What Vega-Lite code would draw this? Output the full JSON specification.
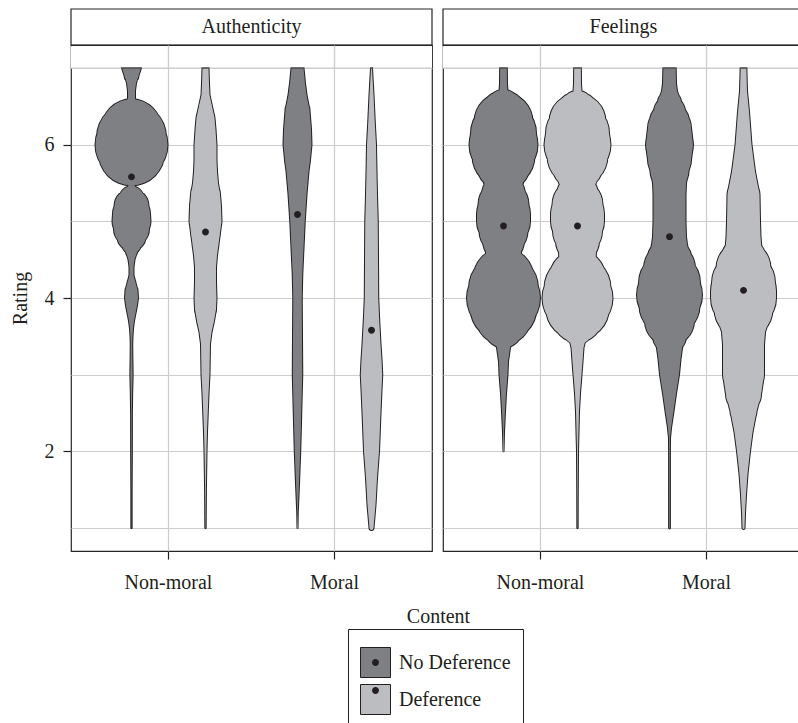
{
  "$schema": "https://vega.github.io/schema/vega-lite/v6.json",
  "background": "white",
  "padding": {"left": 9, "top": 8, "right": 0, "bottom": 0},
  "datasets": {
    "violin": [
      {"Measure":"Authenticity","Content":"Non-moral","Group":"No Deference","Rating":7,"Density":0.21},
      {"Measure":"Authenticity","Content":"Non-moral","Group":"No Deference","Rating":6.9,"Density":0.16},
      {"Measure":"Authenticity","Content":"Non-moral","Group":"No Deference","Rating":6.8,"Density":0.11},
      {"Measure":"Authenticity","Content":"Non-moral","Group":"No Deference","Rating":6.7,"Density":0.09},
      {"Measure":"Authenticity","Content":"Non-moral","Group":"No Deference","Rating":6.61,"Density":0.09},
      {"Measure":"Authenticity","Content":"Non-moral","Group":"No Deference","Rating":6.5,"Density":0.15},
      {"Measure":"Authenticity","Content":"Non-moral","Group":"No Deference","Rating":6.4,"Density":0.3},
      {"Measure":"Authenticity","Content":"Non-moral","Group":"No Deference","Rating":6.3,"Density":0.46},
      {"Measure":"Authenticity","Content":"Non-moral","Group":"No Deference","Rating":6.2,"Density":0.62},
      {"Measure":"Authenticity","Content":"Non-moral","Group":"No Deference","Rating":6.1,"Density":0.71},
      {"Measure":"Authenticity","Content":"Non-moral","Group":"No Deference","Rating":6,"Density":0.74},
      {"Measure":"Authenticity","Content":"Non-moral","Group":"No Deference","Rating":5.9,"Density":0.68},
      {"Measure":"Authenticity","Content":"Non-moral","Group":"No Deference","Rating":5.8,"Density":0.52},
      {"Measure":"Authenticity","Content":"Non-moral","Group":"No Deference","Rating":5.7,"Density":0.32},
      {"Measure":"Authenticity","Content":"Non-moral","Group":"No Deference","Rating":5.6,"Density":0.14},
      {"Measure":"Authenticity","Content":"Non-moral","Group":"No Deference","Rating":5.5,"Density":0.07},
      {"Measure":"Authenticity","Content":"Non-moral","Group":"No Deference","Rating":5.4,"Density":0.12},
      {"Measure":"Authenticity","Content":"Non-moral","Group":"No Deference","Rating":5.3,"Density":0.26},
      {"Measure":"Authenticity","Content":"Non-moral","Group":"No Deference","Rating":5.2,"Density":0.36},
      {"Measure":"Authenticity","Content":"Non-moral","Group":"No Deference","Rating":5.1,"Density":0.39},
      {"Measure":"Authenticity","Content":"Non-moral","Group":"No Deference","Rating":5,"Density":0.4},
      {"Measure":"Authenticity","Content":"Non-moral","Group":"No Deference","Rating":4.9,"Density":0.37},
      {"Measure":"Authenticity","Content":"Non-moral","Group":"No Deference","Rating":4.8,"Density":0.3},
      {"Measure":"Authenticity","Content":"Non-moral","Group":"No Deference","Rating":4.7,"Density":0.21},
      {"Measure":"Authenticity","Content":"Non-moral","Group":"No Deference","Rating":4.6,"Density":0.13},
      {"Measure":"Authenticity","Content":"Non-moral","Group":"No Deference","Rating":4.5,"Density":0.08},
      {"Measure":"Authenticity","Content":"Non-moral","Group":"No Deference","Rating":4.4,"Density":0.06},
      {"Measure":"Authenticity","Content":"Non-moral","Group":"No Deference","Rating":4.3,"Density":0.06},
      {"Measure":"Authenticity","Content":"Non-moral","Group":"No Deference","Rating":4.2,"Density":0.1},
      {"Measure":"Authenticity","Content":"Non-moral","Group":"No Deference","Rating":4.1,"Density":0.14},
      {"Measure":"Authenticity","Content":"Non-moral","Group":"No Deference","Rating":4,"Density":0.15},
      {"Measure":"Authenticity","Content":"Non-moral","Group":"No Deference","Rating":3.9,"Density":0.13},
      {"Measure":"Authenticity","Content":"Non-moral","Group":"No Deference","Rating":3.8,"Density":0.1},
      {"Measure":"Authenticity","Content":"Non-moral","Group":"No Deference","Rating":3.7,"Density":0.07},
      {"Measure":"Authenticity","Content":"Non-moral","Group":"No Deference","Rating":3.6,"Density":0.05},
      {"Measure":"Authenticity","Content":"Non-moral","Group":"No Deference","Rating":3.5,"Density":0.04},
      {"Measure":"Authenticity","Content":"Non-moral","Group":"No Deference","Rating":3.4,"Density":0.035},
      {"Measure":"Authenticity","Content":"Non-moral","Group":"No Deference","Rating":3.2,"Density":0.038},
      {"Measure":"Authenticity","Content":"Non-moral","Group":"No Deference","Rating":3,"Density":0.043},
      {"Measure":"Authenticity","Content":"Non-moral","Group":"No Deference","Rating":2.8,"Density":0.035},
      {"Measure":"Authenticity","Content":"Non-moral","Group":"No Deference","Rating":2.5,"Density":0.028},
      {"Measure":"Authenticity","Content":"Non-moral","Group":"No Deference","Rating":2,"Density":0.027},
      {"Measure":"Authenticity","Content":"Non-moral","Group":"No Deference","Rating":1.5,"Density":0.023},
      {"Measure":"Authenticity","Content":"Non-moral","Group":"No Deference","Rating":1,"Density":0.023},

      {"Measure":"Authenticity","Content":"Non-moral","Group":"Deference","Rating":7,"Density":0.08},
      {"Measure":"Authenticity","Content":"Non-moral","Group":"Deference","Rating":6.8,"Density":0.09},
      {"Measure":"Authenticity","Content":"Non-moral","Group":"Deference","Rating":6.65,"Density":0.1},
      {"Measure":"Authenticity","Content":"Non-moral","Group":"Deference","Rating":6.5,"Density":0.15},
      {"Measure":"Authenticity","Content":"Non-moral","Group":"Deference","Rating":6.35,"Density":0.2},
      {"Measure":"Authenticity","Content":"Non-moral","Group":"Deference","Rating":6.2,"Density":0.22},
      {"Measure":"Authenticity","Content":"Non-moral","Group":"Deference","Rating":6,"Density":0.24},
      {"Measure":"Authenticity","Content":"Non-moral","Group":"Deference","Rating":5.8,"Density":0.24},
      {"Measure":"Authenticity","Content":"Non-moral","Group":"Deference","Rating":5.65,"Density":0.25},
      {"Measure":"Authenticity","Content":"Non-moral","Group":"Deference","Rating":5.5,"Density":0.27},
      {"Measure":"Authenticity","Content":"Non-moral","Group":"Deference","Rating":5.35,"Density":0.31},
      {"Measure":"Authenticity","Content":"Non-moral","Group":"Deference","Rating":5.2,"Density":0.33},
      {"Measure":"Authenticity","Content":"Non-moral","Group":"Deference","Rating":5,"Density":0.34},
      {"Measure":"Authenticity","Content":"Non-moral","Group":"Deference","Rating":4.85,"Density":0.31},
      {"Measure":"Authenticity","Content":"Non-moral","Group":"Deference","Rating":4.7,"Density":0.28},
      {"Measure":"Authenticity","Content":"Non-moral","Group":"Deference","Rating":4.55,"Density":0.25},
      {"Measure":"Authenticity","Content":"Non-moral","Group":"Deference","Rating":4.4,"Density":0.23},
      {"Measure":"Authenticity","Content":"Non-moral","Group":"Deference","Rating":4.2,"Density":0.23},
      {"Measure":"Authenticity","Content":"Non-moral","Group":"Deference","Rating":4,"Density":0.24},
      {"Measure":"Authenticity","Content":"Non-moral","Group":"Deference","Rating":3.85,"Density":0.23},
      {"Measure":"Authenticity","Content":"Non-moral","Group":"Deference","Rating":3.7,"Density":0.19},
      {"Measure":"Authenticity","Content":"Non-moral","Group":"Deference","Rating":3.55,"Density":0.14},
      {"Measure":"Authenticity","Content":"Non-moral","Group":"Deference","Rating":3.4,"Density":0.11},
      {"Measure":"Authenticity","Content":"Non-moral","Group":"Deference","Rating":3.2,"Density":0.105},
      {"Measure":"Authenticity","Content":"Non-moral","Group":"Deference","Rating":3,"Density":0.1},
      {"Measure":"Authenticity","Content":"Non-moral","Group":"Deference","Rating":2.75,"Density":0.08},
      {"Measure":"Authenticity","Content":"Non-moral","Group":"Deference","Rating":2.5,"Density":0.065},
      {"Measure":"Authenticity","Content":"Non-moral","Group":"Deference","Rating":2.25,"Density":0.05},
      {"Measure":"Authenticity","Content":"Non-moral","Group":"Deference","Rating":2,"Density":0.04},
      {"Measure":"Authenticity","Content":"Non-moral","Group":"Deference","Rating":1.5,"Density":0.028},
      {"Measure":"Authenticity","Content":"Non-moral","Group":"Deference","Rating":1,"Density":0.023},

      {"Measure":"Authenticity","Content":"Moral","Group":"No Deference","Rating":7,"Density":0.14},
      {"Measure":"Authenticity","Content":"Moral","Group":"No Deference","Rating":6.8,"Density":0.17},
      {"Measure":"Authenticity","Content":"Moral","Group":"No Deference","Rating":6.65,"Density":0.2},
      {"Measure":"Authenticity","Content":"Moral","Group":"No Deference","Rating":6.45,"Density":0.26},
      {"Measure":"Authenticity","Content":"Moral","Group":"No Deference","Rating":6.2,"Density":0.29},
      {"Measure":"Authenticity","Content":"Moral","Group":"No Deference","Rating":6,"Density":0.3},
      {"Measure":"Authenticity","Content":"Moral","Group":"No Deference","Rating":5.8,"Density":0.27},
      {"Measure":"Authenticity","Content":"Moral","Group":"No Deference","Rating":5.65,"Density":0.24},
      {"Measure":"Authenticity","Content":"Moral","Group":"No Deference","Rating":5.35,"Density":0.2},
      {"Measure":"Authenticity","Content":"Moral","Group":"No Deference","Rating":5,"Density":0.165},
      {"Measure":"Authenticity","Content":"Moral","Group":"No Deference","Rating":4.65,"Density":0.14},
      {"Measure":"Authenticity","Content":"Moral","Group":"No Deference","Rating":4.3,"Density":0.115},
      {"Measure":"Authenticity","Content":"Moral","Group":"No Deference","Rating":4,"Density":0.105},
      {"Measure":"Authenticity","Content":"Moral","Group":"No Deference","Rating":3.5,"Density":0.11},
      {"Measure":"Authenticity","Content":"Moral","Group":"No Deference","Rating":3,"Density":0.115},
      {"Measure":"Authenticity","Content":"Moral","Group":"No Deference","Rating":2.5,"Density":0.095},
      {"Measure":"Authenticity","Content":"Moral","Group":"No Deference","Rating":2,"Density":0.075},
      {"Measure":"Authenticity","Content":"Moral","Group":"No Deference","Rating":1.5,"Density":0.045},
      {"Measure":"Authenticity","Content":"Moral","Group":"No Deference","Rating":1.2,"Density":0.025},
      {"Measure":"Authenticity","Content":"Moral","Group":"No Deference","Rating":1,"Density":0.02},

      {"Measure":"Authenticity","Content":"Moral","Group":"Deference","Rating":7,"Density":0.03},
      {"Measure":"Authenticity","Content":"Moral","Group":"Deference","Rating":6.65,"Density":0.06},
      {"Measure":"Authenticity","Content":"Moral","Group":"Deference","Rating":6.3,"Density":0.085},
      {"Measure":"Authenticity","Content":"Moral","Group":"Deference","Rating":6,"Density":0.11},
      {"Measure":"Authenticity","Content":"Moral","Group":"Deference","Rating":5.65,"Density":0.12},
      {"Measure":"Authenticity","Content":"Moral","Group":"Deference","Rating":5.35,"Density":0.13},
      {"Measure":"Authenticity","Content":"Moral","Group":"Deference","Rating":5,"Density":0.145},
      {"Measure":"Authenticity","Content":"Moral","Group":"Deference","Rating":4.5,"Density":0.15},
      {"Measure":"Authenticity","Content":"Moral","Group":"Deference","Rating":4,"Density":0.155},
      {"Measure":"Authenticity","Content":"Moral","Group":"Deference","Rating":3.7,"Density":0.175},
      {"Measure":"Authenticity","Content":"Moral","Group":"Deference","Rating":3.4,"Density":0.2},
      {"Measure":"Authenticity","Content":"Moral","Group":"Deference","Rating":3.2,"Density":0.22},
      {"Measure":"Authenticity","Content":"Moral","Group":"Deference","Rating":3,"Density":0.235},
      {"Measure":"Authenticity","Content":"Moral","Group":"Deference","Rating":2.8,"Density":0.22},
      {"Measure":"Authenticity","Content":"Moral","Group":"Deference","Rating":2.5,"Density":0.2},
      {"Measure":"Authenticity","Content":"Moral","Group":"Deference","Rating":2,"Density":0.17},
      {"Measure":"Authenticity","Content":"Moral","Group":"Deference","Rating":1.65,"Density":0.13},
      {"Measure":"Authenticity","Content":"Moral","Group":"Deference","Rating":1.3,"Density":0.1},
      {"Measure":"Authenticity","Content":"Moral","Group":"Deference","Rating":1,"Density":0.06},

      {"Measure":"Feelings","Content":"Non-moral","Group":"No Deference","Rating":7,"Density":0.087},
      {"Measure":"Feelings","Content":"Non-moral","Group":"No Deference","Rating":6.8,"Density":0.09},
      {"Measure":"Feelings","Content":"Non-moral","Group":"No Deference","Rating":6.7,"Density":0.1},
      {"Measure":"Feelings","Content":"Non-moral","Group":"No Deference","Rating":6.6,"Density":0.18},
      {"Measure":"Feelings","Content":"Non-moral","Group":"No Deference","Rating":6.5,"Density":0.35},
      {"Measure":"Feelings","Content":"Non-moral","Group":"No Deference","Rating":6.4,"Density":0.48},
      {"Measure":"Feelings","Content":"Non-moral","Group":"No Deference","Rating":6.3,"Density":0.6},
      {"Measure":"Feelings","Content":"Non-moral","Group":"No Deference","Rating":6.15,"Density":0.67},
      {"Measure":"Feelings","Content":"Non-moral","Group":"No Deference","Rating":6,"Density":0.7},
      {"Measure":"Feelings","Content":"Non-moral","Group":"No Deference","Rating":5.85,"Density":0.64},
      {"Measure":"Feelings","Content":"Non-moral","Group":"No Deference","Rating":5.74,"Density":0.55},
      {"Measure":"Feelings","Content":"Non-moral","Group":"No Deference","Rating":5.6,"Density":0.44},
      {"Measure":"Feelings","Content":"Non-moral","Group":"No Deference","Rating":5.48,"Density":0.4},
      {"Measure":"Feelings","Content":"Non-moral","Group":"No Deference","Rating":5.35,"Density":0.45},
      {"Measure":"Feelings","Content":"Non-moral","Group":"No Deference","Rating":5.22,"Density":0.52},
      {"Measure":"Feelings","Content":"Non-moral","Group":"No Deference","Rating":5.1,"Density":0.55},
      {"Measure":"Feelings","Content":"Non-moral","Group":"No Deference","Rating":5,"Density":0.55},
      {"Measure":"Feelings","Content":"Non-moral","Group":"No Deference","Rating":4.87,"Density":0.5},
      {"Measure":"Feelings","Content":"Non-moral","Group":"No Deference","Rating":4.74,"Density":0.43},
      {"Measure":"Feelings","Content":"Non-moral","Group":"No Deference","Rating":4.6,"Density":0.37},
      {"Measure":"Feelings","Content":"Non-moral","Group":"No Deference","Rating":4.48,"Density":0.38},
      {"Measure":"Feelings","Content":"Non-moral","Group":"No Deference","Rating":4.35,"Density":0.5},
      {"Measure":"Feelings","Content":"Non-moral","Group":"No Deference","Rating":4.26,"Density":0.62},
      {"Measure":"Feelings","Content":"Non-moral","Group":"No Deference","Rating":4.13,"Density":0.71},
      {"Measure":"Feelings","Content":"Non-moral","Group":"No Deference","Rating":4,"Density":0.75},
      {"Measure":"Feelings","Content":"Non-moral","Group":"No Deference","Rating":3.87,"Density":0.68},
      {"Measure":"Feelings","Content":"Non-moral","Group":"No Deference","Rating":3.75,"Density":0.57},
      {"Measure":"Feelings","Content":"Non-moral","Group":"No Deference","Rating":3.6,"Density":0.4},
      {"Measure":"Feelings","Content":"Non-moral","Group":"No Deference","Rating":3.48,"Density":0.23},
      {"Measure":"Feelings","Content":"Non-moral","Group":"No Deference","Rating":3.35,"Density":0.15},
      {"Measure":"Feelings","Content":"Non-moral","Group":"No Deference","Rating":3.17,"Density":0.11},
      {"Measure":"Feelings","Content":"Non-moral","Group":"No Deference","Rating":3,"Density":0.1},
      {"Measure":"Feelings","Content":"Non-moral","Group":"No Deference","Rating":2.75,"Density":0.07},
      {"Measure":"Feelings","Content":"Non-moral","Group":"No Deference","Rating":2.52,"Density":0.05},
      {"Measure":"Feelings","Content":"Non-moral","Group":"No Deference","Rating":2.25,"Density":0.03},
      {"Measure":"Feelings","Content":"Non-moral","Group":"No Deference","Rating":2,"Density":0.02},

      {"Measure":"Feelings","Content":"Non-moral","Group":"Deference","Rating":7,"Density":0.087},
      {"Measure":"Feelings","Content":"Non-moral","Group":"Deference","Rating":6.8,"Density":0.09},
      {"Measure":"Feelings","Content":"Non-moral","Group":"Deference","Rating":6.7,"Density":0.1},
      {"Measure":"Feelings","Content":"Non-moral","Group":"Deference","Rating":6.6,"Density":0.17},
      {"Measure":"Feelings","Content":"Non-moral","Group":"Deference","Rating":6.5,"Density":0.33},
      {"Measure":"Feelings","Content":"Non-moral","Group":"Deference","Rating":6.4,"Density":0.46},
      {"Measure":"Feelings","Content":"Non-moral","Group":"Deference","Rating":6.3,"Density":0.58},
      {"Measure":"Feelings","Content":"Non-moral","Group":"Deference","Rating":6.15,"Density":0.65},
      {"Measure":"Feelings","Content":"Non-moral","Group":"Deference","Rating":6,"Density":0.68},
      {"Measure":"Feelings","Content":"Non-moral","Group":"Deference","Rating":5.85,"Density":0.62},
      {"Measure":"Feelings","Content":"Non-moral","Group":"Deference","Rating":5.74,"Density":0.53},
      {"Measure":"Feelings","Content":"Non-moral","Group":"Deference","Rating":5.6,"Density":0.42},
      {"Measure":"Feelings","Content":"Non-moral","Group":"Deference","Rating":5.48,"Density":0.37},
      {"Measure":"Feelings","Content":"Non-moral","Group":"Deference","Rating":5.35,"Density":0.43},
      {"Measure":"Feelings","Content":"Non-moral","Group":"Deference","Rating":5.22,"Density":0.52},
      {"Measure":"Feelings","Content":"Non-moral","Group":"Deference","Rating":5.1,"Density":0.55},
      {"Measure":"Feelings","Content":"Non-moral","Group":"Deference","Rating":5,"Density":0.55},
      {"Measure":"Feelings","Content":"Non-moral","Group":"Deference","Rating":4.87,"Density":0.51},
      {"Measure":"Feelings","Content":"Non-moral","Group":"Deference","Rating":4.74,"Density":0.45},
      {"Measure":"Feelings","Content":"Non-moral","Group":"Deference","Rating":4.6,"Density":0.39},
      {"Measure":"Feelings","Content":"Non-moral","Group":"Deference","Rating":4.48,"Density":0.38},
      {"Measure":"Feelings","Content":"Non-moral","Group":"Deference","Rating":4.35,"Density":0.46},
      {"Measure":"Feelings","Content":"Non-moral","Group":"Deference","Rating":4.26,"Density":0.58},
      {"Measure":"Feelings","Content":"Non-moral","Group":"Deference","Rating":4.13,"Density":0.68},
      {"Measure":"Feelings","Content":"Non-moral","Group":"Deference","Rating":4,"Density":0.72},
      {"Measure":"Feelings","Content":"Non-moral","Group":"Deference","Rating":3.87,"Density":0.65},
      {"Measure":"Feelings","Content":"Non-moral","Group":"Deference","Rating":3.75,"Density":0.52},
      {"Measure":"Feelings","Content":"Non-moral","Group":"Deference","Rating":3.6,"Density":0.33},
      {"Measure":"Feelings","Content":"Non-moral","Group":"Deference","Rating":3.48,"Density":0.19},
      {"Measure":"Feelings","Content":"Non-moral","Group":"Deference","Rating":3.35,"Density":0.14},
      {"Measure":"Feelings","Content":"Non-moral","Group":"Deference","Rating":3.17,"Density":0.12},
      {"Measure":"Feelings","Content":"Non-moral","Group":"Deference","Rating":3,"Density":0.1},
      {"Measure":"Feelings","Content":"Non-moral","Group":"Deference","Rating":2.75,"Density":0.07},
      {"Measure":"Feelings","Content":"Non-moral","Group":"Deference","Rating":2.52,"Density":0.05},
      {"Measure":"Feelings","Content":"Non-moral","Group":"Deference","Rating":2.25,"Density":0.04},
      {"Measure":"Feelings","Content":"Non-moral","Group":"Deference","Rating":2,"Density":0.03},
      {"Measure":"Feelings","Content":"Non-moral","Group":"Deference","Rating":1.5,"Density":0.025},
      {"Measure":"Feelings","Content":"Non-moral","Group":"Deference","Rating":1,"Density":0.023},

      {"Measure":"Feelings","Content":"Moral","Group":"No Deference","Rating":7,"Density":0.143},
      {"Measure":"Feelings","Content":"Moral","Group":"No Deference","Rating":6.8,"Density":0.15},
      {"Measure":"Feelings","Content":"Moral","Group":"No Deference","Rating":6.7,"Density":0.17},
      {"Measure":"Feelings","Content":"Moral","Group":"No Deference","Rating":6.55,"Density":0.25},
      {"Measure":"Feelings","Content":"Moral","Group":"No Deference","Rating":6.43,"Density":0.33},
      {"Measure":"Feelings","Content":"Moral","Group":"No Deference","Rating":6.3,"Density":0.41},
      {"Measure":"Feelings","Content":"Moral","Group":"No Deference","Rating":6.22,"Density":0.45},
      {"Measure":"Feelings","Content":"Moral","Group":"No Deference","Rating":6,"Density":0.49},
      {"Measure":"Feelings","Content":"Moral","Group":"No Deference","Rating":5.8,"Density":0.45},
      {"Measure":"Feelings","Content":"Moral","Group":"No Deference","Rating":5.65,"Density":0.4},
      {"Measure":"Feelings","Content":"Moral","Group":"No Deference","Rating":5.5,"Density":0.35},
      {"Measure":"Feelings","Content":"Moral","Group":"No Deference","Rating":5.35,"Density":0.34},
      {"Measure":"Feelings","Content":"Moral","Group":"No Deference","Rating":5,"Density":0.34},
      {"Measure":"Feelings","Content":"Moral","Group":"No Deference","Rating":4.8,"Density":0.35},
      {"Measure":"Feelings","Content":"Moral","Group":"No Deference","Rating":4.65,"Density":0.38},
      {"Measure":"Feelings","Content":"Moral","Group":"No Deference","Rating":4.5,"Density":0.46},
      {"Measure":"Feelings","Content":"Moral","Group":"No Deference","Rating":4.39,"Density":0.53},
      {"Measure":"Feelings","Content":"Moral","Group":"No Deference","Rating":4.2,"Density":0.63},
      {"Measure":"Feelings","Content":"Moral","Group":"No Deference","Rating":4.04,"Density":0.67},
      {"Measure":"Feelings","Content":"Moral","Group":"No Deference","Rating":3.9,"Density":0.62},
      {"Measure":"Feelings","Content":"Moral","Group":"No Deference","Rating":3.7,"Density":0.51},
      {"Measure":"Feelings","Content":"Moral","Group":"No Deference","Rating":3.5,"Density":0.35},
      {"Measure":"Feelings","Content":"Moral","Group":"No Deference","Rating":3.39,"Density":0.28},
      {"Measure":"Feelings","Content":"Moral","Group":"No Deference","Rating":3.2,"Density":0.24},
      {"Measure":"Feelings","Content":"Moral","Group":"No Deference","Rating":3,"Density":0.21},
      {"Measure":"Feelings","Content":"Moral","Group":"No Deference","Rating":2.75,"Density":0.15},
      {"Measure":"Feelings","Content":"Moral","Group":"No Deference","Rating":2.52,"Density":0.1},
      {"Measure":"Feelings","Content":"Moral","Group":"No Deference","Rating":2.3,"Density":0.05},
      {"Measure":"Feelings","Content":"Moral","Group":"No Deference","Rating":2.17,"Density":0.03},
      {"Measure":"Feelings","Content":"Moral","Group":"No Deference","Rating":2,"Density":0.028},
      {"Measure":"Feelings","Content":"Moral","Group":"No Deference","Rating":1.5,"Density":0.028},
      {"Measure":"Feelings","Content":"Moral","Group":"No Deference","Rating":1,"Density":0.028},

      {"Measure":"Feelings","Content":"Moral","Group":"Deference","Rating":7,"Density":0.077},
      {"Measure":"Feelings","Content":"Moral","Group":"Deference","Rating":6.7,"Density":0.09},
      {"Measure":"Feelings","Content":"Moral","Group":"Deference","Rating":6.43,"Density":0.13},
      {"Measure":"Feelings","Content":"Moral","Group":"Deference","Rating":6,"Density":0.18},
      {"Measure":"Feelings","Content":"Moral","Group":"Deference","Rating":5.65,"Density":0.25},
      {"Measure":"Feelings","Content":"Moral","Group":"Deference","Rating":5.35,"Density":0.34},
      {"Measure":"Feelings","Content":"Moral","Group":"Deference","Rating":5,"Density":0.35},
      {"Measure":"Feelings","Content":"Moral","Group":"Deference","Rating":4.8,"Density":0.36},
      {"Measure":"Feelings","Content":"Moral","Group":"Deference","Rating":4.65,"Density":0.38},
      {"Measure":"Feelings","Content":"Moral","Group":"Deference","Rating":4.5,"Density":0.47},
      {"Measure":"Feelings","Content":"Moral","Group":"Deference","Rating":4.39,"Density":0.56},
      {"Measure":"Feelings","Content":"Moral","Group":"Deference","Rating":4.2,"Density":0.65},
      {"Measure":"Feelings","Content":"Moral","Group":"Deference","Rating":4.09,"Density":0.67},
      {"Measure":"Feelings","Content":"Moral","Group":"Deference","Rating":4,"Density":0.67},
      {"Measure":"Feelings","Content":"Moral","Group":"Deference","Rating":3.85,"Density":0.6},
      {"Measure":"Feelings","Content":"Moral","Group":"Deference","Rating":3.7,"Density":0.5},
      {"Measure":"Feelings","Content":"Moral","Group":"Deference","Rating":3.55,"Density":0.45},
      {"Measure":"Feelings","Content":"Moral","Group":"Deference","Rating":3.39,"Density":0.43},
      {"Measure":"Feelings","Content":"Moral","Group":"Deference","Rating":3,"Density":0.43},
      {"Measure":"Feelings","Content":"Moral","Group":"Deference","Rating":2.74,"Density":0.37},
      {"Measure":"Feelings","Content":"Moral","Group":"Deference","Rating":2.52,"Density":0.28},
      {"Measure":"Feelings","Content":"Moral","Group":"Deference","Rating":2.25,"Density":0.2},
      {"Measure":"Feelings","Content":"Moral","Group":"Deference","Rating":2,"Density":0.15},
      {"Measure":"Feelings","Content":"Moral","Group":"Deference","Rating":1.7,"Density":0.1},
      {"Measure":"Feelings","Content":"Moral","Group":"Deference","Rating":1.43,"Density":0.07},
      {"Measure":"Feelings","Content":"Moral","Group":"Deference","Rating":1.2,"Density":0.05},
      {"Measure":"Feelings","Content":"Moral","Group":"Deference","Rating":1,"Density":0.04}
    ],
    "means": [
      {"Measure":"Authenticity","Content":"Non-moral","Group":"No Deference","Rating":5.58},
      {"Measure":"Authenticity","Content":"Non-moral","Group":"Deference","Rating":4.86},
      {"Measure":"Authenticity","Content":"Moral","Group":"No Deference","Rating":5.09},
      {"Measure":"Authenticity","Content":"Moral","Group":"Deference","Rating":3.58},
      {"Measure":"Feelings","Content":"Non-moral","Group":"No Deference","Rating":4.94},
      {"Measure":"Feelings","Content":"Non-moral","Group":"Deference","Rating":4.94},
      {"Measure":"Feelings","Content":"Moral","Group":"No Deference","Rating":4.8},
      {"Measure":"Feelings","Content":"Moral","Group":"Deference","Rating":4.1}
    ]
  },
  "columns": 2,
  "bounds": "flush",
  "spacing": {"row": 0, "column": 11},
  "concat": [
    {
      "width": 361, "height": 36,
      "data": {"values": [{"Measure": "Authenticity"}]},
      "layer": [
        {"mark": {"type": "rect", "fill": "white", "stroke": "#262626", "strokeWidth": 1.2}, "encoding": {}},
        {"mark": {"type": "text", "font": "Liberation Serif", "fontSize": 20, "color": "#231f20"},
         "encoding": {"text": {"field": "Measure", "type": "nominal"}}}
      ]
    },
    {
      "width": 361, "height": 36,
      "data": {"values": [{"Measure": "Feelings"}]},
      "layer": [
        {"mark": {"type": "rect", "fill": "white", "stroke": "#262626", "strokeWidth": 1.2}, "encoding": {}},
        {"mark": {"type": "text", "font": "Liberation Serif", "fontSize": 20, "color": "#231f20"},
         "encoding": {"text": {"field": "Measure", "type": "nominal"}}}
      ]
    },
    {
      "width": 361, "height": 506,
      "layer": [
        {
          "data": {"name": "violin"},
          "transform": [{"filter": "datum.Measure === 'Authenticity'"}],
          "mark": {"type": "trail", "color": "#231f20"},
          "encoding": {
            "x": {"field": "Content", "type": "nominal", "sort": ["Non-moral", "Moral"],
                  "scale": {"type": "band", "domain": ["Non-moral", "Moral"], "paddingInner": 0, "paddingOuter": 0.0873},
                  "axis": {"title": "Content", "titleX": 367, "titleY": 71, "titleBaseline": "alphabetic", "labelAngle": 0, "tickSize": 8, "labelPadding": 13, "grid": true}},
            "xOffset": {"field": "Group", "type": "nominal", "sort": ["No Deference", "Deference"],
                        "scale": {"type": "point", "domain": ["No Deference", "Deference"], "padding": 0.6216}},
            "y": {"field": "Rating", "type": "quantitative",
                  "scale": {"domain": [0.7, 7.3], "nice": false, "zero": false},
                  "axis": {"values": [1, 2, 3, 4, 5, 6, 7], "format": "d", "labelExpr": "datum.value % 2 === 0 ? datum.label : ''",
                           "tickOpacity": {"condition": {"test": "datum.value % 2 === 1", "value": 0}, "value": 1},
                           "tickSize": 8, "labelPadding": 9, "title": "Rating", "titleX": -45, "titleBaseline": "alphabetic", "grid": true}},
            "size": {"field": "Density", "type": "quantitative", "scale": {"domain": [0, 1], "range": [0, 100]}, "legend": null},
            "detail": [{"field": "Content", "type": "nominal"}, {"field": "Group", "type": "nominal"}],
            "order": {"field": "Rating", "type": "quantitative"}
          }
        },
        {
          "data": {"name": "violin"},
          "transform": [{"filter": "datum.Measure === 'Authenticity'"}],
          "mark": {"type": "trail"},
          "encoding": {
            "x": {"field": "Content", "type": "nominal", "sort": ["Non-moral", "Moral"],
                  "scale": {"type": "band", "domain": ["Non-moral", "Moral"], "paddingInner": 0, "paddingOuter": 0.0873},
                  "axis": {"title": "Content", "titleX": 367, "titleY": 71, "titleBaseline": "alphabetic", "labelAngle": 0, "tickSize": 8, "labelPadding": 13, "grid": true}},
            "xOffset": {"field": "Group", "type": "nominal", "sort": ["No Deference", "Deference"],
                        "scale": {"type": "point", "domain": ["No Deference", "Deference"], "padding": 0.6216}},
            "y": {"field": "Rating", "type": "quantitative"},
            "fill": {"field": "Group", "type": "nominal",
                     "scale": {"domain": ["No Deference", "Deference"], "range": ["#7f8084", "#bcbdc1"]},
                     "legend": {"orient": "none", "legendX": 277, "legendY": 620, "direction": "vertical", "title": " ", "titleFontSize": 6, "titlePadding": 0, "padding": 12, "strokeColor": "#231f20", "fillColor": "white", "symbolType": "square", "symbolSize": 900, "symbolStrokeColor": "#231f20", "symbolStrokeWidth": 1, "symbolOpacity": 1, "labelFont": "Liberation Serif", "labelFontSize": 20, "labelColor": "#231f20", "labelOffset": 8, "rowPadding": 2}},
            "size": {"field": "Density", "type": "quantitative", "scale": {"domain": [0.02, 1.02], "range": [0, 100], "clamp": true}, "legend": null},
            "detail": [{"field": "Content", "type": "nominal"}, {"field": "Group", "type": "nominal"}],
            "order": {"field": "Rating", "type": "quantitative"}
          }
        },
        {
          "data": {"values": [{"Band": "top"}]},
          "mark": {"type": "rect", "color": "white"},
          "encoding": {"x": {"value": 0}, "x2": {"value": "width"}, "y": {"datum": 7}, "y2": {"datum": 7.285}}
        },
        {
          "data": {"values": [{"Band": "top"}]},
          "mark": {"type": "rule", "color": "#cdcdcd", "strokeWidth": 1.2},
          "encoding": {"x": {"value": 0}, "x2": {"value": "width"}, "y": {"datum": 7}}
        },
        {
          "data": {"name": "means"},
          "transform": [{"filter": "datum.Measure === 'Authenticity'"}],
          "mark": {"type": "rule", "color": "#cdcdcd", "strokeWidth": 1.2},
          "encoding": {
            "x": {"field": "Content", "type": "nominal", "sort": ["Non-moral", "Moral"],
                  "scale": {"type": "band", "domain": ["Non-moral", "Moral"], "paddingInner": 0, "paddingOuter": 0.0873},
                  "axis": {"title": "Content", "titleX": 367, "titleY": 71, "titleBaseline": "alphabetic", "labelAngle": 0, "tickSize": 8, "labelPadding": 13, "grid": true}},
            "y": {"datum": 7}, "y2": {"datum": 7.285}
          }
        },
        {
          "data": {"name": "violin"},
          "transform": [{"filter": "datum.Measure === 'Authenticity' && datum.Rating === 7"}],
          "mark": {"type": "tick", "color": "#231f20", "thickness": 1.2, "opacity": 1},
          "encoding": {
            "x": {"field": "Content", "type": "nominal", "sort": ["Non-moral", "Moral"],
                  "scale": {"type": "band", "domain": ["Non-moral", "Moral"], "paddingInner": 0, "paddingOuter": 0.0873},
                  "axis": {"title": "Content", "titleX": 367, "titleY": 71, "titleBaseline": "alphabetic", "labelAngle": 0, "tickSize": 8, "labelPadding": 13, "grid": true}},
            "xOffset": {"field": "Group", "type": "nominal", "sort": ["No Deference", "Deference"],
                        "scale": {"type": "point", "domain": ["No Deference", "Deference"], "padding": 0.6216}},
            "y": {"field": "Rating", "type": "quantitative"},
            "size": {"field": "Density", "type": "quantitative", "scale": {"domain": [0, 1], "range": [0, 100]}, "legend": null}
          }
        },
        {
          "data": {"name": "means"},
          "transform": [{"filter": "datum.Measure === 'Authenticity'"}],
          "mark": {"type": "point", "filled": true, "size": 900, "opacity": 1, "color": "#231f20", "strokeWidth": 0},
          "encoding": {
            "x": {"field": "Content", "type": "nominal", "sort": ["Non-moral", "Moral"],
                  "scale": {"type": "band", "domain": ["Non-moral", "Moral"], "paddingInner": 0, "paddingOuter": 0.0873},
                  "axis": {"title": "Content", "titleX": 367, "titleY": 71, "titleBaseline": "alphabetic", "labelAngle": 0, "tickSize": 8, "labelPadding": 13, "grid": true}},
            "xOffset": {"field": "Group", "type": "nominal", "sort": ["No Deference", "Deference"],
                        "scale": {"type": "point", "domain": ["No Deference", "Deference"], "padding": 0.6216}},
            "y": {"field": "Rating", "type": "quantitative"},
            "shape": {"field": "Group", "type": "nominal",
                      "scale": {"range": ["M-0.23,0A0.23,0.23 0 1,0 0.23,0A0.23,0.23 0 1,0 -0.23,0Z", "M-0.23,0A0.23,0.23 0 1,0 0.23,0A0.23,0.23 0 1,0 -0.23,0Z"]},
                      "legend": {"orient": "none", "legendX": 277, "legendY": 620, "direction": "vertical", "title": " ", "titleFontSize": 6, "titlePadding": 0, "padding": 12, "symbolSize": 900, "symbolFillColor": "#231f20", "symbolStrokeColor": "transparent", "symbolStrokeWidth": 1, "symbolOpacity": 1, "labelFont": "Liberation Serif", "labelFontSize": 20, "labelExpr": "''", "labelOffset": 8, "rowPadding": 2}}
          }
        }
      ],
      "resolve": {"scale": {"size": "independent"}}
    },
    {
      "width": 361, "height": 506,
      "layer": [
        {
          "data": {"name": "violin"},
          "transform": [{"filter": "datum.Measure === 'Feelings'"}],
          "mark": {"type": "trail", "color": "#231f20"},
          "encoding": {
            "x": {"field": "Content", "type": "nominal", "sort": ["Non-moral", "Moral"],
                  "scale": {"type": "band", "domain": ["Non-moral", "Moral"], "paddingInner": 0, "paddingOuter": 0.0873},
                  "axis": {"title": null, "labelAngle": 0, "tickSize": 8, "labelPadding": 13, "grid": true}},
            "xOffset": {"field": "Group", "type": "nominal", "sort": ["No Deference", "Deference"],
                        "scale": {"type": "point", "domain": ["No Deference", "Deference"], "padding": 0.6216}},
            "y": {"field": "Rating", "type": "quantitative",
                  "scale": {"domain": [0.7, 7.3], "nice": false, "zero": false},
                  "axis": {"values": [1, 2, 3, 4, 5, 6, 7], "labels": false, "ticks": false, "title": null, "grid": true}},
            "size": {"field": "Density", "type": "quantitative", "scale": {"domain": [0, 1], "range": [0, 100]}, "legend": null},
            "detail": [{"field": "Content", "type": "nominal"}, {"field": "Group", "type": "nominal"}],
            "order": {"field": "Rating", "type": "quantitative"}
          }
        },
        {
          "data": {"name": "violin"},
          "transform": [{"filter": "datum.Measure === 'Feelings'"}],
          "mark": {"type": "trail"},
          "encoding": {
            "x": {"field": "Content", "type": "nominal", "sort": ["Non-moral", "Moral"],
                  "scale": {"type": "band", "domain": ["Non-moral", "Moral"], "paddingInner": 0, "paddingOuter": 0.0873},
                  "axis": {"title": null, "labelAngle": 0, "tickSize": 8, "labelPadding": 13, "grid": true}},
            "xOffset": {"field": "Group", "type": "nominal", "sort": ["No Deference", "Deference"],
                        "scale": {"type": "point", "domain": ["No Deference", "Deference"], "padding": 0.6216}},
            "y": {"field": "Rating", "type": "quantitative"},
            "fill": {"field": "Group", "type": "nominal",
                     "scale": {"domain": ["No Deference", "Deference"], "range": ["#7f8084", "#bcbdc1"]},
                     "legend": {"orient": "none", "legendX": 277, "legendY": 620, "direction": "vertical", "title": " ", "titleFontSize": 6, "titlePadding": 0, "padding": 12, "strokeColor": "#231f20", "fillColor": "white", "symbolType": "square", "symbolSize": 900, "symbolStrokeColor": "#231f20", "symbolStrokeWidth": 1, "symbolOpacity": 1, "labelFont": "Liberation Serif", "labelFontSize": 20, "labelColor": "#231f20", "labelOffset": 8, "rowPadding": 2}},
            "size": {"field": "Density", "type": "quantitative", "scale": {"domain": [0.02, 1.02], "range": [0, 100], "clamp": true}, "legend": null},
            "detail": [{"field": "Content", "type": "nominal"}, {"field": "Group", "type": "nominal"}],
            "order": {"field": "Rating", "type": "quantitative"}
          }
        },
        {
          "data": {"values": [{"Band": "top"}]},
          "mark": {"type": "rect", "color": "white"},
          "encoding": {"x": {"value": 0}, "x2": {"value": "width"}, "y": {"datum": 7}, "y2": {"datum": 7.285}}
        },
        {
          "data": {"values": [{"Band": "top"}]},
          "mark": {"type": "rule", "color": "#cdcdcd", "strokeWidth": 1.2},
          "encoding": {"x": {"value": 0}, "x2": {"value": "width"}, "y": {"datum": 7}}
        },
        {
          "data": {"name": "means"},
          "transform": [{"filter": "datum.Measure === 'Feelings'"}],
          "mark": {"type": "rule", "color": "#cdcdcd", "strokeWidth": 1.2},
          "encoding": {
            "x": {"field": "Content", "type": "nominal", "sort": ["Non-moral", "Moral"],
                  "scale": {"type": "band", "domain": ["Non-moral", "Moral"], "paddingInner": 0, "paddingOuter": 0.0873},
                  "axis": {"title": null, "labelAngle": 0, "tickSize": 8, "labelPadding": 13, "grid": true}},
            "y": {"datum": 7}, "y2": {"datum": 7.285}
          }
        },
        {
          "data": {"name": "violin"},
          "transform": [{"filter": "datum.Measure === 'Feelings' && datum.Rating === 7"}],
          "mark": {"type": "tick", "color": "#231f20", "thickness": 1.2, "opacity": 1},
          "encoding": {
            "x": {"field": "Content", "type": "nominal", "sort": ["Non-moral", "Moral"],
                  "scale": {"type": "band", "domain": ["Non-moral", "Moral"], "paddingInner": 0, "paddingOuter": 0.0873},
                  "axis": {"title": null, "labelAngle": 0, "tickSize": 8, "labelPadding": 13, "grid": true}},
            "xOffset": {"field": "Group", "type": "nominal", "sort": ["No Deference", "Deference"],
                        "scale": {"type": "point", "domain": ["No Deference", "Deference"], "padding": 0.6216}},
            "y": {"field": "Rating", "type": "quantitative"},
            "size": {"field": "Density", "type": "quantitative", "scale": {"domain": [0, 1], "range": [0, 100]}, "legend": null}
          }
        },
        {
          "data": {"name": "means"},
          "transform": [{"filter": "datum.Measure === 'Feelings'"}],
          "mark": {"type": "point", "filled": true, "size": 900, "opacity": 1, "color": "#231f20", "strokeWidth": 0},
          "encoding": {
            "x": {"field": "Content", "type": "nominal", "sort": ["Non-moral", "Moral"],
                  "scale": {"type": "band", "domain": ["Non-moral", "Moral"], "paddingInner": 0, "paddingOuter": 0.0873},
                  "axis": {"title": null, "labelAngle": 0, "tickSize": 8, "labelPadding": 13, "grid": true}},
            "xOffset": {"field": "Group", "type": "nominal", "sort": ["No Deference", "Deference"],
                        "scale": {"type": "point", "domain": ["No Deference", "Deference"], "padding": 0.6216}},
            "y": {"field": "Rating", "type": "quantitative"},
            "shape": {"field": "Group", "type": "nominal",
                      "scale": {"range": ["M-0.23,0A0.23,0.23 0 1,0 0.23,0A0.23,0.23 0 1,0 -0.23,0Z", "M-0.23,0A0.23,0.23 0 1,0 0.23,0A0.23,0.23 0 1,0 -0.23,0Z"]},
                      "legend": {"orient": "none", "legendX": 277, "legendY": 620, "direction": "vertical", "title": " ", "titleFontSize": 6, "titlePadding": 0, "padding": 12, "symbolSize": 900, "symbolFillColor": "#231f20", "symbolStrokeColor": "transparent", "symbolStrokeWidth": 1, "symbolOpacity": 1, "labelFont": "Liberation Serif", "labelFontSize": 20, "labelExpr": "''", "labelOffset": 8, "rowPadding": 2}}
          }
        }
      ],
      "resolve": {"scale": {"size": "independent"}}
    }
  ],
  "resolve": {"scale": {"fill": "shared", "shape": "shared"}},
  "config": {
    "font": "Liberation Serif",
    "view": {"stroke": "#262626", "strokeWidth": 1.2, "fill": "white"},
    "axis": {"labelFont": "Liberation Serif", "labelFontSize": 20, "labelColor": "#231f20",
             "titleFont": "Liberation Serif", "titleFontSize": 20, "titleFontWeight": "normal", "titleColor": "#231f20",
             "tickColor": "#231f20", "tickWidth": 1.2, "domain": false, "gridColor": "#cdcdcd", "gridWidth": 1.2}
  }
}
